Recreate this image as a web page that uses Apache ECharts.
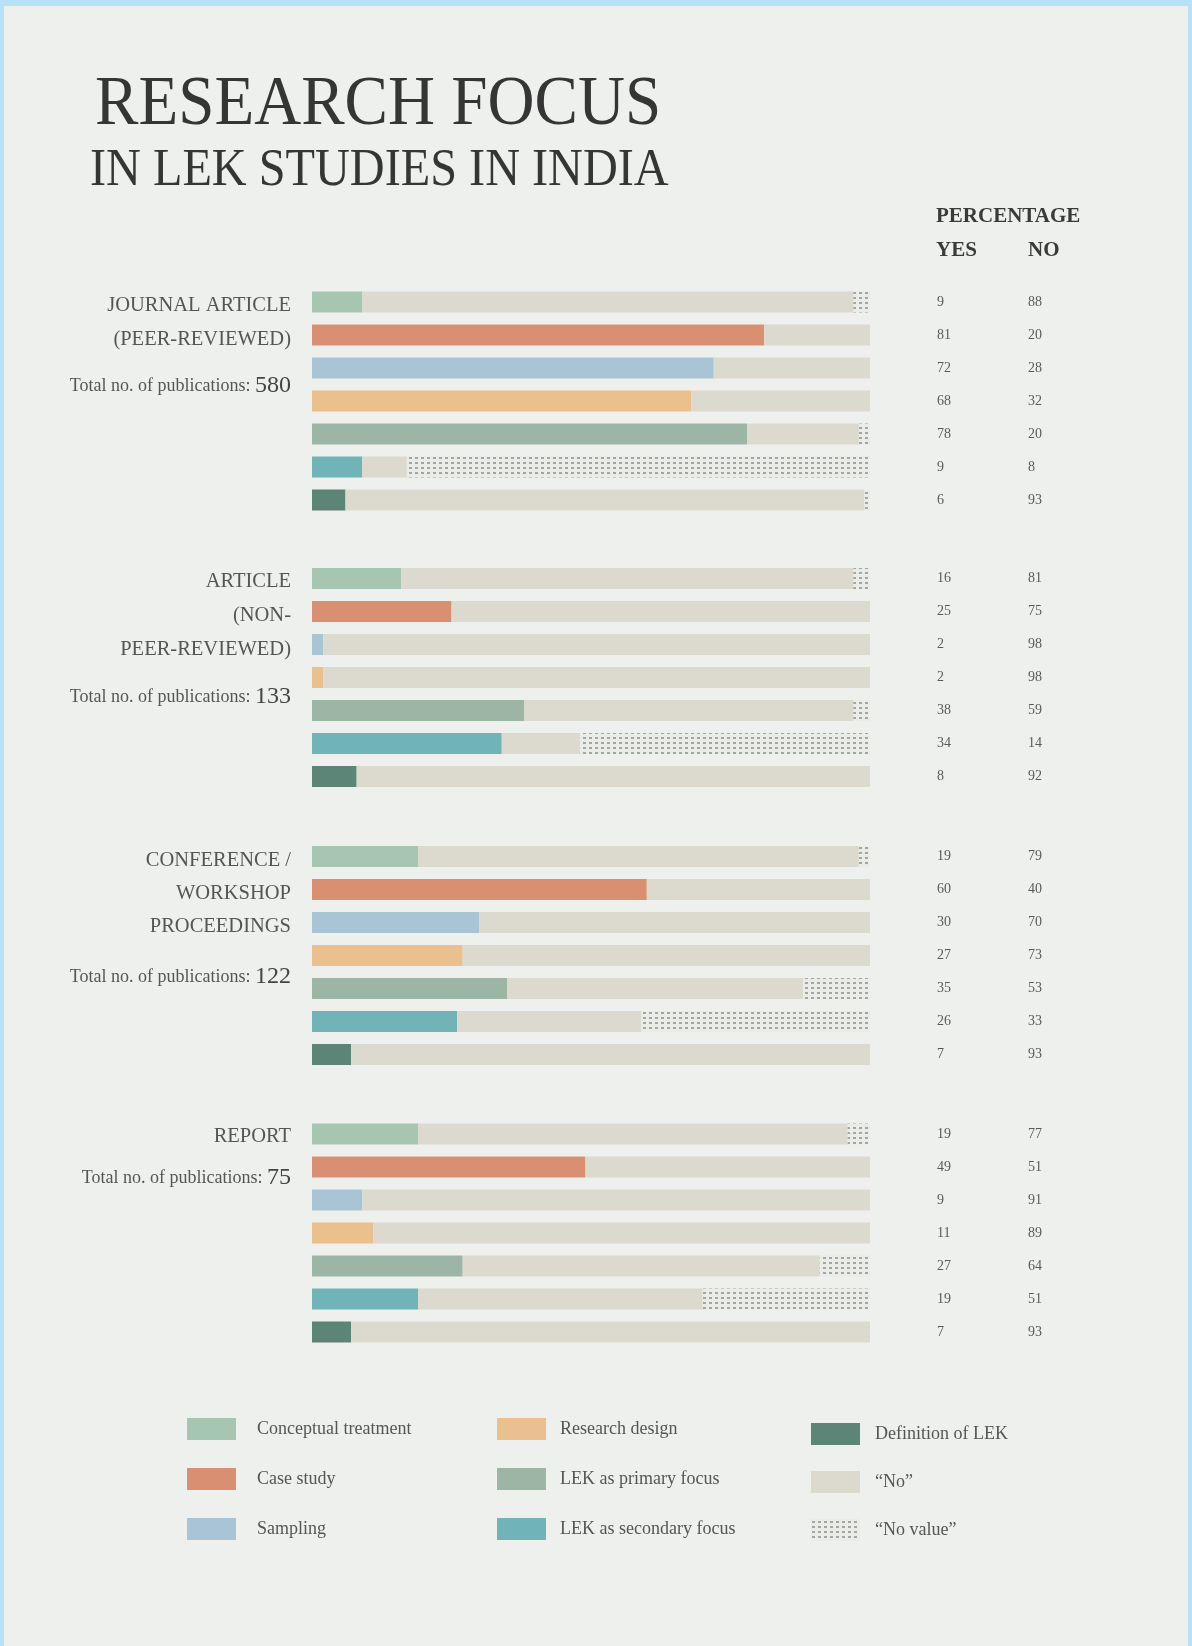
<!DOCTYPE html>
<html><head><meta charset="utf-8">
<script src="https://cdn.jsdelivr.net/npm/echarts@6/dist/echarts.min.js"></script>
<style>html,body{margin:0;padding:0;background:#eef0ed;}#c{width:1192px;height:1646px;}</style>
</head><body><div id="c"></div>
<script>
// ---- data ----
const categories = ['Conceptual treatment','Case study','Sampling','Research design','LEK as primary focus','LEK as secondary focus','Definition of LEK'];
const noName = '\u201cNo\u201d';
const noValueName = '\u201cNo value\u201d';
const groupLines = [
  ['JOURNAL ARTICLE','(PEER-REVIEWED)'],
  ['ARTICLE','(NON-','PEER-REVIEWED)'],
  ['CONFERENCE /','WORKSHOP','PROCEEDINGS'],
  ['REPORT']
];
const groupTotals = [580, 133, 122, 75];
const yesJournal = [9, 81, 72, 68, 78, 9, 6];
const noJournal = [88, 20, 28, 32, 20, 8, 93];
const noValueJournal = [3, 0, 0, 0, 2, 83, 1];
const yesArticle = [16, 25, 2, 2, 38, 34, 8];
const noArticle = [81, 75, 98, 98, 59, 14, 92];
const noValueArticle = [3, 0, 0, 0, 3, 52, 0];
const yesConference = [19, 60, 30, 27, 35, 26, 7];
const noConference = [79, 40, 70, 73, 53, 33, 93];
const noValueConference = [2, 0, 0, 0, 12, 41, 0];
const yesReport = [19, 49, 9, 11, 27, 19, 7];
const noReport = [77, 51, 91, 89, 64, 51, 93];
const noValueReport = [4, 0, 0, 0, 9, 30, 0];

const yesAll = [yesJournal, yesArticle, yesConference, yesReport];
const noAll = [noJournal, noArticle, noConference, noReport];
const noValueAll = [noValueJournal, noValueArticle, noValueConference, noValueReport];

// ---- style ----
const FONT = '"Liberation Serif", "DejaVu Serif", serif';
const colors = ['#a7c6b1','#d98f71','#a9c5d5','#ebc08f','#9cb5a4','#70b4b8','#5d8577'];
const noColor = '#dcd9cf';
const gridTops = [285.5, 562, 840, 1117.5];
const labelYs = [[306, 340], [582, 616, 650], [861, 894, 927], [1137]];
const totalYs = [386, 697, 977, 1178];

function makePattern() {
  const c = document.createElement('canvas');
  c.width = 6; c.height = 5;
  const ctx = c.getContext('2d');
  ctx.fillStyle = '#eaece8'; ctx.fillRect(0, 0, 6, 5);
  ctx.fillStyle = '#a4a6a3'; ctx.fillRect(1, 2, 3, 2);
  return c;
}
const pattern = { image: makePattern(), repeat: 'repeat' };

const grid = [], xAxis = [], yAxis = [], series = [];
gridTops.forEach((top, g) => {
  grid.push({ left: 312, right: 322, top: top, height: 231 });
  xAxis.push({ type: 'value', gridIndex: g, min: 0, max: 100, show: false });
  yAxis.push({
    type: 'category', gridIndex: g, data: categories, inverse: true, position: 'right',
    axisLine: { show: false }, axisTick: { show: false }, splitLine: { show: false },
    axisLabel: {
      align: 'left', margin: 67,
      formatter: (v, i) => '{y|' + yesAll[g][i] + '}{n|' + noAll[g][i] + '}',
      rich: {
        y: { width: 91, fontSize: 14, fontFamily: FONT, color: '#5a5a5a' },
        n: { fontSize: 14, fontFamily: FONT, color: '#5a5a5a' }
      }
    }
  });
  categories.forEach((name, i) => {
    series.push({
      type: 'bar', name: name, xAxisIndex: g, yAxisIndex: g, stack: 's' + g, barWidth: 21,
      data: yesAll[g].map((v, j) => (j === i ? v : '-')),
      itemStyle: { color: colors[i] }, silent: true, emphasis: { disabled: true }
    });
  });
  series.push({ type: 'bar', name: noName, xAxisIndex: g, yAxisIndex: g, stack: 's' + g, barWidth: 21,
    data: noAll[g], itemStyle: { color: noColor }, silent: true, emphasis: { disabled: true } });
  series.push({ type: 'bar', name: noValueName, xAxisIndex: g, yAxisIndex: g, stack: 's' + g, barWidth: 21,
    data: noValueAll[g], itemStyle: { color: pattern }, silent: true, emphasis: { disabled: true } });
});

const legendText = { fontFamily: FONT, fontSize: 18, color: '#555' };
const legend = [
  { orient: 'vertical', left: 182, top: 1413, itemWidth: 49, itemHeight: 22, itemGap: 28, icon: 'rect', selectedMode: false,
    data: categories.slice(0, 3), textStyle: Object.assign({ padding: [0, 0, 0, 16] }, legendText) },
  { orient: 'vertical', left: 492, top: 1413, itemWidth: 49, itemHeight: 22, itemGap: 28, icon: 'rect', selectedMode: false,
    data: categories.slice(3, 6), textStyle: Object.assign({ padding: [0, 0, 0, 9] }, legendText) },
  { orient: 'vertical', left: 806, top: 1418, itemWidth: 49, itemHeight: 22, itemGap: 26, icon: 'rect', selectedMode: false,
    data: [categories[6], noName, noValueName], textStyle: Object.assign({ padding: [0, 0, 0, 10] }, legendText) }
];

const graphic = [
  { type: 'rect', shape: { x: 0, y: 0, width: 1192, height: 6 }, style: { fill: '#b6e1f6' }, silent: true },
  { type: 'rect', shape: { x: 0, y: 0, width: 4, height: 1646 }, style: { fill: '#b6e1f6' }, silent: true },
  { type: 'rect', shape: { x: 1188, y: 0, width: 4, height: 1646 }, style: { fill: '#b6e1f6' }, silent: true },
  { type: 'text', x: 95, y: 106, scaleX: 0.93, silent: true,
    style: { text: 'RESEARCH FOCUS', font: '70px ' + FONT, fill: '#353535', align: 'left', verticalAlign: 'middle' } },
  { type: 'text', x: 90, y: 171, scaleX: 0.91, silent: true,
    style: { text: 'IN LEK STUDIES IN INDIA', font: '53px ' + FONT, fill: '#353535', align: 'left', verticalAlign: 'middle' } },
  { type: 'text', x: 936, y: 217, silent: true,
    style: { text: 'PERCENTAGE', font: 'bold 21px ' + FONT, fill: '#3a3a3a', align: 'left', verticalAlign: 'middle' } },
  { type: 'text', x: 936, y: 251, silent: true,
    style: { text: 'YES', font: 'bold 21px ' + FONT, fill: '#3a3a3a', align: 'left', verticalAlign: 'middle' } },
  { type: 'text', x: 1028, y: 251, silent: true,
    style: { text: 'NO', font: 'bold 21px ' + FONT, fill: '#3a3a3a', align: 'left', verticalAlign: 'middle' } }
];
groupLines.forEach((lines, g) => {
  lines.forEach((t, k) => {
    graphic.push({ type: 'text', x: 291, y: labelYs[g][k], silent: true,
      style: { text: t, font: '20.5px ' + FONT, fill: '#555', align: 'right', verticalAlign: 'middle' } });
  });
  graphic.push({ type: 'text', x: 291, y: totalYs[g], silent: true,
    style: { text: '{t|Total no. of publications: }{v|' + groupTotals[g] + '}', align: 'right', verticalAlign: 'middle',
      rich: { t: { fontFamily: FONT, fontSize: 18, fill: '#555', color: '#555' },
              v: { fontFamily: FONT, fontSize: 24, fill: '#444', color: '#444' } } } });
});

const chart = echarts.init(document.getElementById('c'), null, { renderer: 'canvas' });
chart.setOption({
  backgroundColor: '#eef0ed',
  animation: false,
  grid, xAxis, yAxis, series, legend, graphic
});
</script></body></html>
